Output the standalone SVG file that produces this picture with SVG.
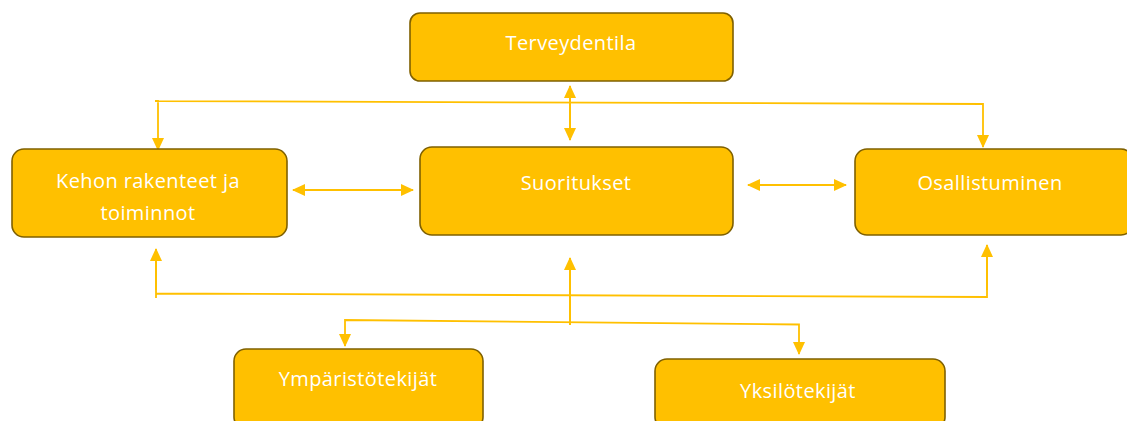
<svg xmlns="http://www.w3.org/2000/svg" width="1127" height="421" viewBox="0 0 1127 421">
  <defs>
    <style>
      .box { fill: #FFC000; stroke: #7F6000; stroke-width: 1.6; }
      .lbl { fill: #FFFFFF; font-family: "Open Sans", "Liberation Sans", sans-serif; font-size: 20px; letter-spacing: 0.4px; text-anchor: middle; }
      .conn { fill: none; stroke: #FFC000; stroke-width: 2; }
      .thin { fill: none; stroke: #FFC000; stroke-width: 1.8; }
    </style>
    <marker id="ah" viewBox="0 0 13 12" refX="12" refY="6" markerWidth="13" markerHeight="12" markerUnits="userSpaceOnUse" orient="auto-start-reverse">
      <path d="M0,0 L13,6 L0,12 Z" fill="#FFC000"/>
    </marker>
  </defs>
  <rect width="1127" height="421" fill="#FFFFFF"/>

  <g id="connectors">
    <line class="conn" x1="570" y1="86" x2="570" y2="140" marker-start="url(#ah)" marker-end="url(#ah)"/>
    <path class="thin" d="M158,150 L158,101 L155,101 L983,104 L983,147" marker-start="url(#ah)" marker-end="url(#ah)"/>
    <line class="conn" x1="293" y1="190" x2="413" y2="190" marker-start="url(#ah)" marker-end="url(#ah)"/>
    <line class="conn" x1="748" y1="185" x2="846" y2="185" marker-start="url(#ah)" marker-end="url(#ah)"/>
    <path class="thin" d="M156,249 L156,298 M156,293.5 L987,297 L987,245" />
    <line class="conn" x1="156" y1="290" x2="156" y2="249" marker-end="url(#ah)"/>
    <line class="conn" x1="987" y1="290" x2="987" y2="245" marker-end="url(#ah)"/>
    <line class="conn" x1="570" y1="325" x2="570" y2="258" marker-end="url(#ah)"/>
    <path class="thin" d="M345,346 L345,320 L799,324.5 L799,354" marker-start="url(#ah)" marker-end="url(#ah)"/>
  </g>

  <g id="node-terveydentila">
    <rect class="box" x="410" y="13" width="323" height="68" rx="10"/>
    <text class="lbl" x="571" y="50">Terveydentila</text>
  </g>
  <g id="node-kehon">
    <rect class="box" x="12" y="149" width="275" height="88" rx="12"/>
    <text class="lbl" x="148" y="188">Kehon rakenteet ja</text>
    <text class="lbl" x="148" y="220">toiminnot</text>
  </g>
  <g id="node-suoritukset">
    <rect class="box" x="420" y="147" width="313" height="88" rx="12"/>
    <text class="lbl" x="576" y="190">Suoritukset</text>
  </g>
  <g id="node-osallistuminen">
    <rect class="box" x="855" y="149" width="278" height="86" rx="12"/>
    <text class="lbl" x="990" y="190">Osallistuminen</text>
  </g>
  <g id="node-ymparistotekijat">
    <rect class="box" x="234" y="349" width="249" height="80" rx="12"/>
    <text class="lbl" x="358" y="386">Ympäristötekijät</text>
  </g>
  <g id="node-yksilotekijat">
    <rect class="box" x="655" y="359" width="290" height="70" rx="12"/>
    <text class="lbl" x="798" y="398">Yksilötekijät</text>
  </g>
</svg>
